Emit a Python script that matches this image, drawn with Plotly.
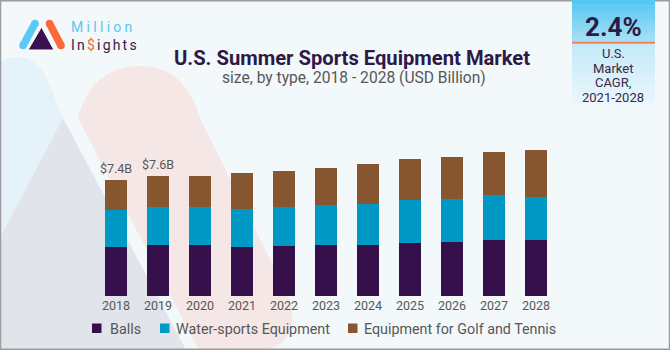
import plotly.graph_objects as go

# ---------------- data ----------------
years = ["2018", "2019", "2020", "2021", "2022", "2023", "2024", "2025", "2026", "2027", "2028"]
balls = [3.11, 3.24, 3.24, 3.13, 3.19, 3.26, 3.26, 3.37, 3.43, 3.54, 3.58]
water_sports = [2.33, 2.41, 2.41, 2.41, 2.46, 2.50, 2.60, 2.71, 2.75, 2.86, 2.73]
golf_tennis = [1.90, 1.99, 1.99, 2.27, 2.30, 2.35, 2.52, 2.60, 2.65, 2.73, 2.96]
series_names = ["Balls", "Water-sports Equipment", "Equipment for Golf and Tennis"]
series_colors = ["#36104a", "#0098c4", "#875731"]
value_labels = ["$7.4B", "$7.6B"]          # shown above the first two bars
title_text = "U.S. Summer Sports Equipment Market"
subtitle_text = "size, by type, 2018 - 2028 (USD Billion)"
cagr_value = "2.4%"
cagr_lines = ["U.S.", "Market", "CAGR,", "2021-2028"]

# ---------------- layout geometry (pixels) ----------------
W, H = 670, 350
L, R, T, B = 95, 113, 140, 54
PW, PH = W - L - R, H - T - B
YMAX = PH / 15.75


def px(x):
    return (x - L) / PW


def py(y):
    return (H - B - y) / PH


def path(cmds):
    out = []
    for c in cmds:
        op = c[0]
        if op == "Z":
            out.append("Z")
            continue
        nums = c[1:]
        pts = []
        for i in range(0, len(nums), 2):
            pts.append(f"{px(nums[i]):.5f},{py(nums[i + 1]):.5f}")
        out.append(op + " " + " ".join(pts))
    return " ".join(out)


FONT = "Roboto, 'Liberation Sans', Arial, sans-serif"
GRAY = "#575757"

fig = go.Figure()
stack = [balls, water_sports, golf_tennis]
for name, vals, col in zip(series_names, stack, series_colors):
    fig.add_trace(go.Bar(
        x=years, y=vals, name=name, marker_color=col,
        marker_line_width=0, showlegend=False, hoverinfo="skip"))

totals = [a + b + c for a, b, c in zip(balls, water_sports, golf_tennis)]

shapes = []
# background decorations
shapes.append(dict(type="path", xref="paper", yref="paper", layer="below",
                   path=path([("M", 0, 240), ("L", 63, 119), ("L", 50, 85),
                              ("Q", 38, 57, 18, 57), ("Q", 5, 58, 0, 62), ("Z",)]),
                   fillcolor="#e6f2fa", line_width=0))
shapes.append(dict(type="path", xref="paper", yref="paper", layer="below",
                   path=path([("M", 63, 118), ("L", 186, 350), ("L", 0, 350), ("L", 0, 238), ("Z",)]),
                   fillcolor="#e2e4ec", line_width=0))
shapes.append(dict(type="path", xref="paper", yref="paper", layer="below",
                   path=path([("M", 78, 118), ("Q", 92, 66, 140, 66), ("Q", 185, 66, 200, 118),
                              ("L", 290, 300), ("Q", 300, 345, 262, 350), ("L", 199, 350), ("Z",)]),
                   fillcolor="#f5e7e5", line_width=0))


def lerp(c1, c2, t):
    a = [int(c1[i:i + 2], 16) for i in (1, 3, 5)]
    b = [int(c2[i:i + 2], 16) for i in (1, 3, 5)]
    return "#" + "".join(f"{round(a[k] + (b[k] - a[k]) * t):02x}" for k in range(3))


def gradient_box(x0, x1, y0, y1, c0, c1, n=16):
    step = (y1 - y0) / n
    for i in range(n):
        ya = y0 + i * step
        yb = ya + step + 0.6
        shapes.append(dict(type="rect", xref="paper", yref="paper", layer="above",
                           x0=px(x0), x1=px(x1), y0=py(ya), y1=py(min(yb, y1)),
                           fillcolor=lerp(c0, c1, i / (n - 1)), line_width=0))


# border
shapes.append(dict(type="rect", xref="paper", yref="paper", layer="above",
                   x0=px(0.5), x1=px(669.5), y0=py(0.8), y1=py(349.3),
                   line=dict(color="#9c9c9c", width=1.5), fillcolor="rgba(0,0,0,0)"))
# CAGR box
gradient_box(572, 655, 0, 42, "#55c7f2", "#a6dff5")
gradient_box(572, 655, 43.5, 105, "#c4eaf8", "#eaf7fc")
shapes.append(dict(type="line", xref="paper", yref="paper", layer="above",
                   x0=px(572), x1=px(655), y0=py(42.8), y1=py(42.8),
                   line=dict(color="#f2825a", width=2)))


# logo
def capsule(xa, ya, xb, yb, color, r=3.8):
    shapes.append(dict(type="line", xref="paper", yref="paper", layer="above",
                       x0=px(xa), y0=py(ya), x1=px(xb), y1=py(yb),
                       line=dict(color=color, width=2 * r)))
    for (cx, cy) in ((xa, ya), (xb, yb)):
        shapes.append(dict(type="circle", xref="paper", yref="paper", layer="above",
                           x0=px(cx - r), x1=px(cx + r), y0=py(cy + r), y1=py(cy - r),
                           fillcolor=color, line_width=0))


capsule(35, 23.5, 23, 45.5, "#5cc8f5")
capsule(49.5, 23.5, 61, 45.5, "#fb6a38")
shapes.append(dict(type="path", xref="paper", yref="paper", layer="above",
                   path=path([("M", 41.5, 27), ("L", 54, 50), ("L", 28, 50), ("Z",)]),
                   fillcolor="#3a1150", line=dict(color="#ffffff", width=1)))

# manual legend squares
legend_sq_x = [92, 160, 348]
legend_text_x = [108, 174, 362]
for xs, col in zip(legend_sq_x, series_colors):
    shapes.append(dict(type="rect", xref="paper", yref="paper", layer="above",
                       x0=px(xs), x1=px(xs + 9.5), y0=py(333), y1=py(323.5),
                       fillcolor=col, line_width=0))

annotations = []
for i, lab in enumerate(value_labels):
    annotations.append(dict(xref="x", yref="y", x=i, y=totals[i], text=lab, showarrow=False,
                            xanchor="center", yanchor="bottom", yshift=2,
                            font=dict(family=FONT, size=12.5, color=GRAY)))

for name, xt in zip(series_names, legend_text_x):
    annotations.append(dict(xref="paper", yref="paper", x=px(xt), y=py(328.5), text=name,
                            showarrow=False, xanchor="left", yanchor="middle",
                            font=dict(family=FONT, size=14.3, color=GRAY)))

annotations.append(dict(xref="paper", yref="paper", x=px(352), y=py(58), text=f"<b>{title_text}</b>",
                        showarrow=False, xanchor="center", yanchor="middle",
                        font=dict(family=FONT, size=20.2, color="#2d1846")))
annotations.append(dict(xref="paper", yref="paper", x=px(353.5), y=py(78), text=subtitle_text,
                        showarrow=False, xanchor="center", yanchor="middle",
                        font=dict(family=FONT, size=15.6, color=GRAY)))

annotations.append(dict(xref="paper", yref="paper", x=px(613), y=py(27), text=f"<b>{cagr_value}</b>",
                        showarrow=False, xanchor="center", yanchor="middle",
                        font=dict(family=FONT, size=26, color="#2e1a47")))
for txt, yc in zip(cagr_lines, [53, 68, 82.5, 97]):
    annotations.append(dict(xref="paper", yref="paper", x=px(613), y=py(yc), text=txt,
                            showarrow=False, xanchor="center", yanchor="middle",
                            font=dict(family=FONT, size=13, color="#3a2848")))

# logo text as one two-line annotation
annotations.append(dict(
    xref="paper", yref="paper", x=px(69), y=py(36), align="left",
    text=("<span style='letter-spacing:3.3px;color:#5cc6f2'>Million</span><br>"
          "<span style='letter-spacing:2.2px;color:#3a1a4c'>In<span style='color:#f7692f'>$</span>ights</span>"),
    showarrow=False, xanchor="left", yanchor="middle",
    font=dict(family=FONT, size=14, color="#3a1a4c")))

fig.update_layout(
    width=W, height=H,
    margin=dict(l=L, r=R, t=T, b=B, pad=0),
    paper_bgcolor="#f3f8fb", plot_bgcolor="rgba(0,0,0,0)",
    barmode="stack", bargap=0.476,
    showlegend=False,
    shapes=shapes, annotations=annotations,
    xaxis=dict(type="category", range=[-0.5, 10.5], showgrid=False, zeroline=False,
               showline=False, ticks="", tickfont=dict(family=FONT, size=12.5, color=GRAY)),
    yaxis=dict(range=[0, YMAX], visible=False, showgrid=False, zeroline=False),
    font=dict(family=FONT),
)

fig.write_html("out.html")
